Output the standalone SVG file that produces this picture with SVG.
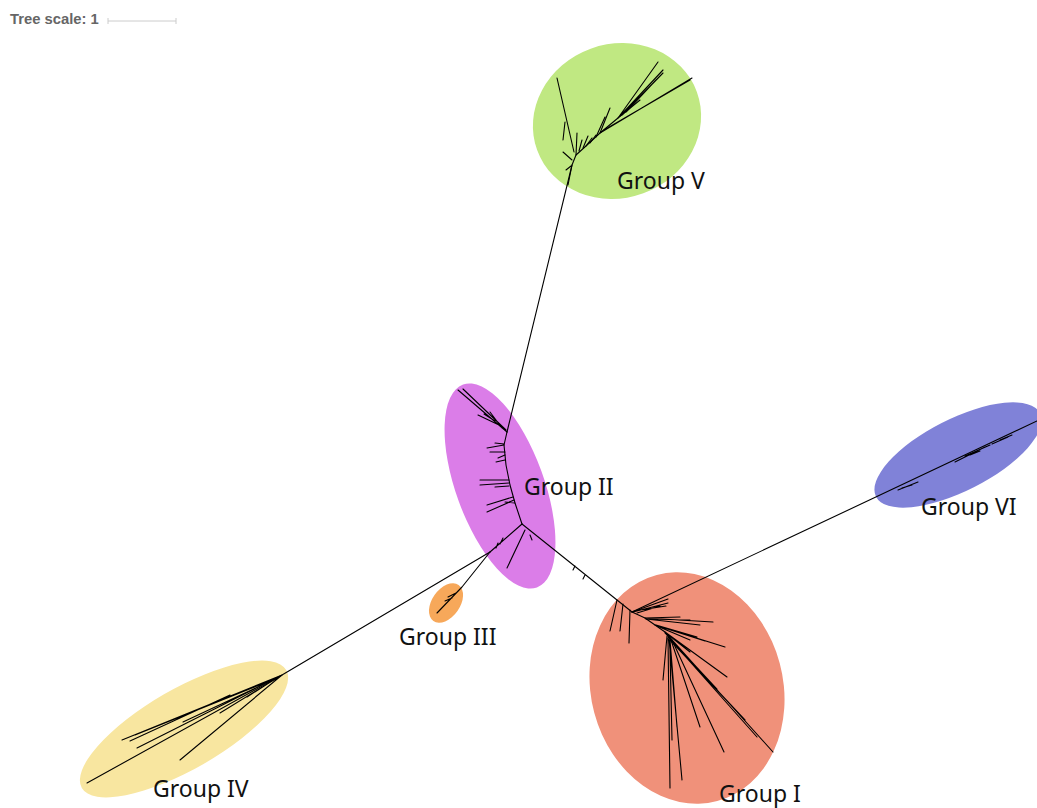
<svg xmlns="http://www.w3.org/2000/svg" width="1037" height="808" viewBox="0 0 1037 808">
<style>
.lbl{font-family:"Noto Sans","Open Sans",sans-serif;font-size:23px;fill:#111}
.br{fill:none;stroke:#000;stroke-width:1.1;stroke-linecap:round;stroke-linejoin:round}
.sc{font-family:"Liberation Sans",Arial,sans-serif;font-size:14.8px;font-weight:bold;fill:#666}
</style>
<rect width="1037" height="808" fill="#fff"/>
<g id="scale">
<text class="sc" x="10" y="24">Tree scale: 1</text>
<path d="M108 21H176M108 18V24M176 18V24" stroke="#ccc" stroke-width="1" fill="none"/>
</g>
<g id="group-V"><ellipse cx="617" cy="121" rx="85" ry="77" transform="rotate(-20 617 121)" fill="#c0e882"/></g>
<g id="group-II"><ellipse cx="500" cy="486" rx="44" ry="108" transform="rotate(-20 500 486)" fill="#db7de8"/></g>
<g id="group-III"><ellipse cx="446" cy="603" rx="14" ry="22" transform="rotate(35 446 603)" fill="#f7a85a"/></g>
<g id="group-IV"><ellipse cx="184" cy="729" rx="118" ry="40" transform="rotate(-30 184 729)" fill="#f8e6a0"/></g>
<g id="group-I"><ellipse cx="687" cy="688" rx="96" ry="117" transform="rotate(-15 687 688)" fill="#f0917a"/></g>
<g id="group-VI"><ellipse cx="958" cy="455" rx="92" ry="36" transform="rotate(-27 958 455)" fill="#8082d8"/></g>
<g id="connectors">
<path class="br" d="M507 432L572 165"/>
<path class="br" d="M568 185L572 165L576 155L586 146L600 133L618 118L640 100"/>
<path class="br" d="M574 152L557 78M563 140L565 122M572 160L563 152M571 166L566 170M576 155L577 133M579 151L582 140M583 148L588 136M586 146L592 138M590 143L596 135"/>
<path class="br" d="M600 133L610 108M596 137L605 117M600 133L692 78M604 130L690 80M618 118L658 62M620 116L663 70M622 115L663 73M626 112L656 80"/>
<path class="br" d="M507 432L504 445L506 465L510 485L515 503L522 524"/>
<path class="br" d="M507 432L458 390M506 430L463 389M502 428L490 412M499 425L478 415M495 421L484 414"/>
<path class="br" d="M504 445L487 448M504 444L495 443M505 455L498 458M505 452L490 452M505 460L496 462"/>
<path class="br" d="M509 480L480 480M509 483L480 485M509 486L495 487"/>
<path class="br" d="M513 497L487 505M514 500L487 512M515 503L505 502"/>
<path class="br" d="M522 524L632 612M575 566L573 570M585 575L583 579"/>
<path class="br" d="M525 530L507 568M530 535L532 540M522 524L490 552M500 544L503 538M496 548L498 543"/>
<path class="br" d="M490 552L462 587L437 613M452 598L445 601M456 593L448 597"/>
<path class="br" d="M490 552L282 675L87 783"/>
<path class="br" d="M282 675L122 740M282 675L137 748M282 675L180 760M282 675L220 713M272 680L135 735M262 685L183 722M275 679L247 697M230 695L130 741"/>
<path class="br" d="M632 612L645 618L655 625L665 632L672 640"/>
<path class="br" d="M617 600L610 631M623 604L620 631M630 610L629 643"/>
<path class="br" d="M632 612L668 599M633 612L668 603M634 611L666 606M637 613L660 606"/>
<path class="br" d="M645 618L680 617M645 618L713 622M646 619L700 625M648 619L690 620"/>
<path class="br" d="M655 625L725 647M656 625L697 637M657 626L690 640M658 626L705 641"/>
<path class="br" d="M665 632L727 677M665 633L717 689M666 633L690 652M665 632L773 752M668 637L757 737M670 640L745 720"/>
<path class="br" d="M672 640L724 752M671 640L700 727M670 640L677 727M668 638L670 788M669 639L682 780M667 636L663 680M670 650L672 740"/>
<path class="br" d="M632 612L1037 421"/>
<path class="br" d="M898 490L918 482M902 488L912 485M955 462L985 447M965 456L990 445M970 455L980 451M1000 440L1012 435M992 444L1008 437"/>
</g>
<g id="labels">
<text class="lbl" x="617" y="189">Group V</text>
<text class="lbl" x="524" y="495">Group II</text>
<text class="lbl" x="399" y="645">Group III</text>
<text class="lbl" x="153" y="797">Group IV</text>
<text class="lbl" x="921" y="515">Group VI</text>
<text class="lbl" x="719" y="802">Group I</text>
</g>
</svg>
